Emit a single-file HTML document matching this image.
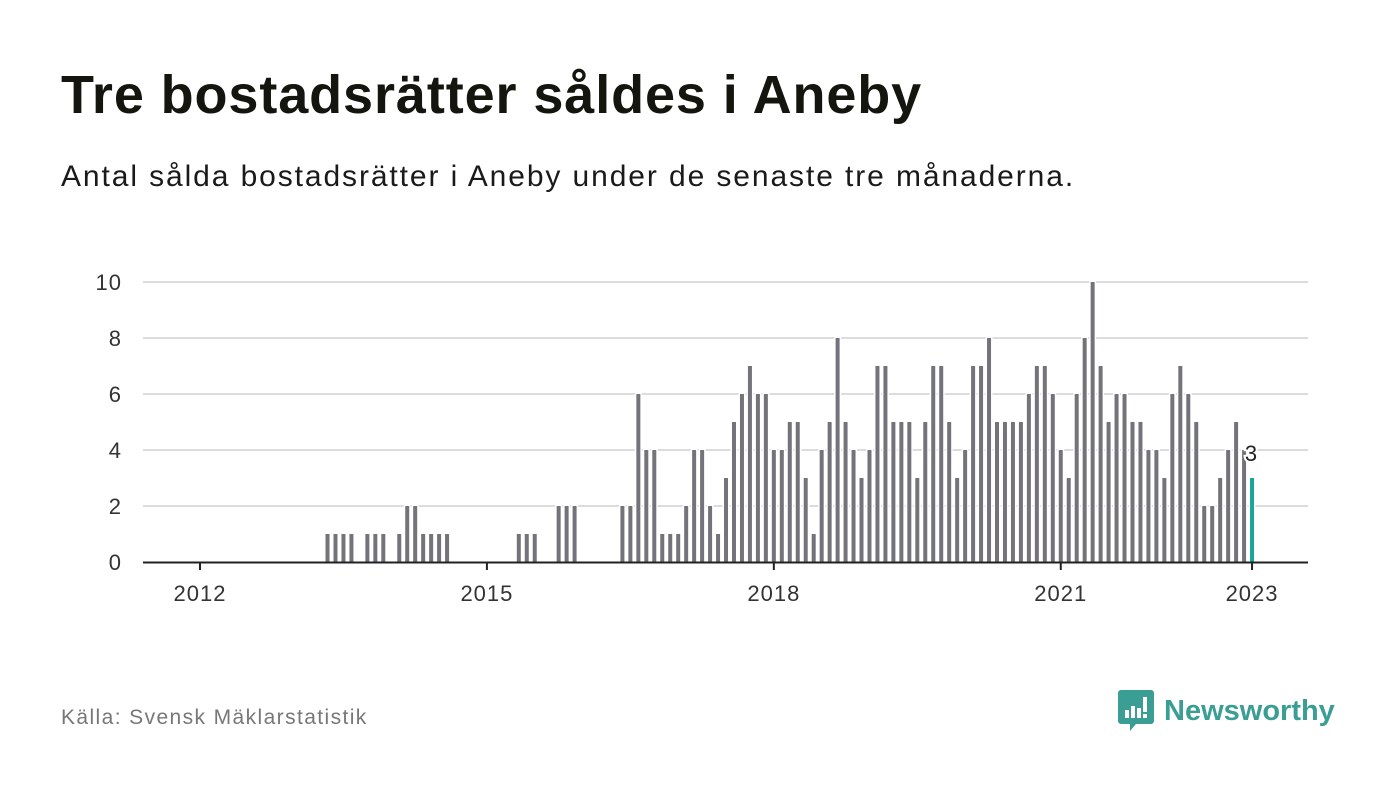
<!DOCTYPE html>
<html><head><meta charset="utf-8"><style>
body{margin:0;background:#fff;font-family:"Liberation Sans",sans-serif;}
#wrap{position:relative;width:1400px;height:794px;overflow:hidden;}
h1{position:absolute;left:61px;top:64px;margin:0;font-size:54px;font-weight:bold;color:#15150f;letter-spacing:0.9px}
p.sub{position:absolute;left:61px;top:160px;margin:0;font-size:30px;color:#1a1a1a;letter-spacing:1.9px}
.src{position:absolute;left:61px;top:706px;font-size:21px;color:#777;letter-spacing:1.4px}
.logo{position:absolute;left:1118px;top:690px;display:flex;align-items:center;gap:10px;color:#3a9e94;font-size:29px;font-weight:bold}
</style></head><body>
<div id="wrap">
<h1>Tre bostadsrätter såldes i Aneby</h1>
<p class="sub">Antal sålda bostadsrätter i Aneby under de senaste tre månaderna.</p>
<svg id="chart" width="1400" height="794" style="position:absolute;left:0;top:0"></svg>
<div class="src">Källa: Svensk Mäklarstatistik</div>
<div class="logo">
<svg width="36" height="42" viewBox="0 0 36 42"><path d="M3 0h30a3 3 0 0 1 3 3v28a3 3 0 0 1-3 3H18l-6 7v-7H3a3 3 0 0 1-3-3V3a3 3 0 0 1 3-3z" fill="#3a9e94"/><rect x="7" y="20" width="4" height="8" fill="#fff"/><rect x="13" y="16" width="4" height="12" fill="#fff"/><rect x="19" y="18" width="4" height="10" fill="#fff"/><rect x="25" y="7" width="4" height="15" fill="#fff"/><rect x="25" y="24" width="4" height="4" fill="#fff"/></svg>
<span>Newsworthy</span></div>
</div>
<script>
const monthIdx=[16,17,18,19,21,22,23,25,26,27,28,29,30,31,40,41,42,45,46,47,
53,54,55,56,57,58,59,60,61,62,63,64,65,66,67,68,69,70,71,72,73,74,75,76,77,78,79,80,81,82,83,84,85,86,87,88,89,90,91,
92,93,94,95,96,97,98,99,100,101,102,103,104,105,106,107,108,109,110,111,112,113,114,115,116,117,118,119,120,121,122,123,124,125,126,127,128,129,130,131,132];
const values=[1,1,1,1,1,1,1,1,2,2,1,1,1,1,1,1,1,2,2,2,
2,2,6,4,4,1,1,1,2,4,4,2,1,3,5,6,7,6,6,4,4,5,5,3,1,4,5,8,5,4,3,4,7,7,5,5,5,3,5,
7,7,5,3,4,7,7,8,5,5,5,5,6,7,7,6,4,3,6,8,10,7,5,6,6,5,5,4,4,3,6,7,6,5,2,2,3,4,5,4,3];
const yTicks=[0,2,4,6,8,10];
const xTickLabels=["2012","2015","2018","2021","2023"];
const xTickMonths=[0,36,72,108,132];
const NS="http://www.w3.org/2000/svg",svg=document.getElementById('chart');
const x=i=>200+i*7.97, y=v=>562-v*28;
function mk(t,a){const e=document.createElementNS(NS,t);for(const k in a)e.setAttribute(k,a[k]);svg.appendChild(e);return e;}
yTicks.forEach(v=>{
 if(v>0){const g=mk('line',{x1:143,x2:1308,y1:y(v),y2:y(v),stroke:'#dcdcdc','stroke-width':2});
 
 }
 const t=mk('text',{x:122,y:y(v)+8,'text-anchor':'end','font-size':22,fill:'#333','letter-spacing':1,'font-family':'Liberation Sans, sans-serif'});
 t.textContent=v;
 
 
});
const last=values.length-1;
values.forEach((v,k)=>{
 const cx=x(monthIdx[k]);
 mk('rect',{x:cx-3.5,y:y(v)-1,width:7,height:v*28+1,fill:'#fff'});
 const b=mk('rect',{x:cx-2,y:y(v),width:4,height:v*28,fill:k===last?'#1aa59a':'#74737a'});
 
 
});
const lt=mk('text',{x:x(monthIdx[last])-1,y:y(values[last])-17,'text-anchor':'middle','font-size':22,fill:'#222',stroke:'#fff','stroke-width':4,'paint-order':'stroke','font-family':'Liberation Sans, sans-serif'});
lt.textContent=values[last];


const ax=mk('line',{x1:143,x2:1308,y1:562.5,y2:562.5,stroke:'#222','stroke-width':2});


xTickLabels.forEach((l,k)=>{
 const px=x(xTickMonths[k]);
 mk('line',{x1:px,x2:px,y1:562,y2:570,stroke:'#222','stroke-width':2});
 const t=mk('text',{x:px,y:601,'text-anchor':'middle','font-size':22,fill:'#333','letter-spacing':1,'font-family':'Liberation Sans, sans-serif'});
 t.textContent=l;
 
 
});
</script>
</body></html>
